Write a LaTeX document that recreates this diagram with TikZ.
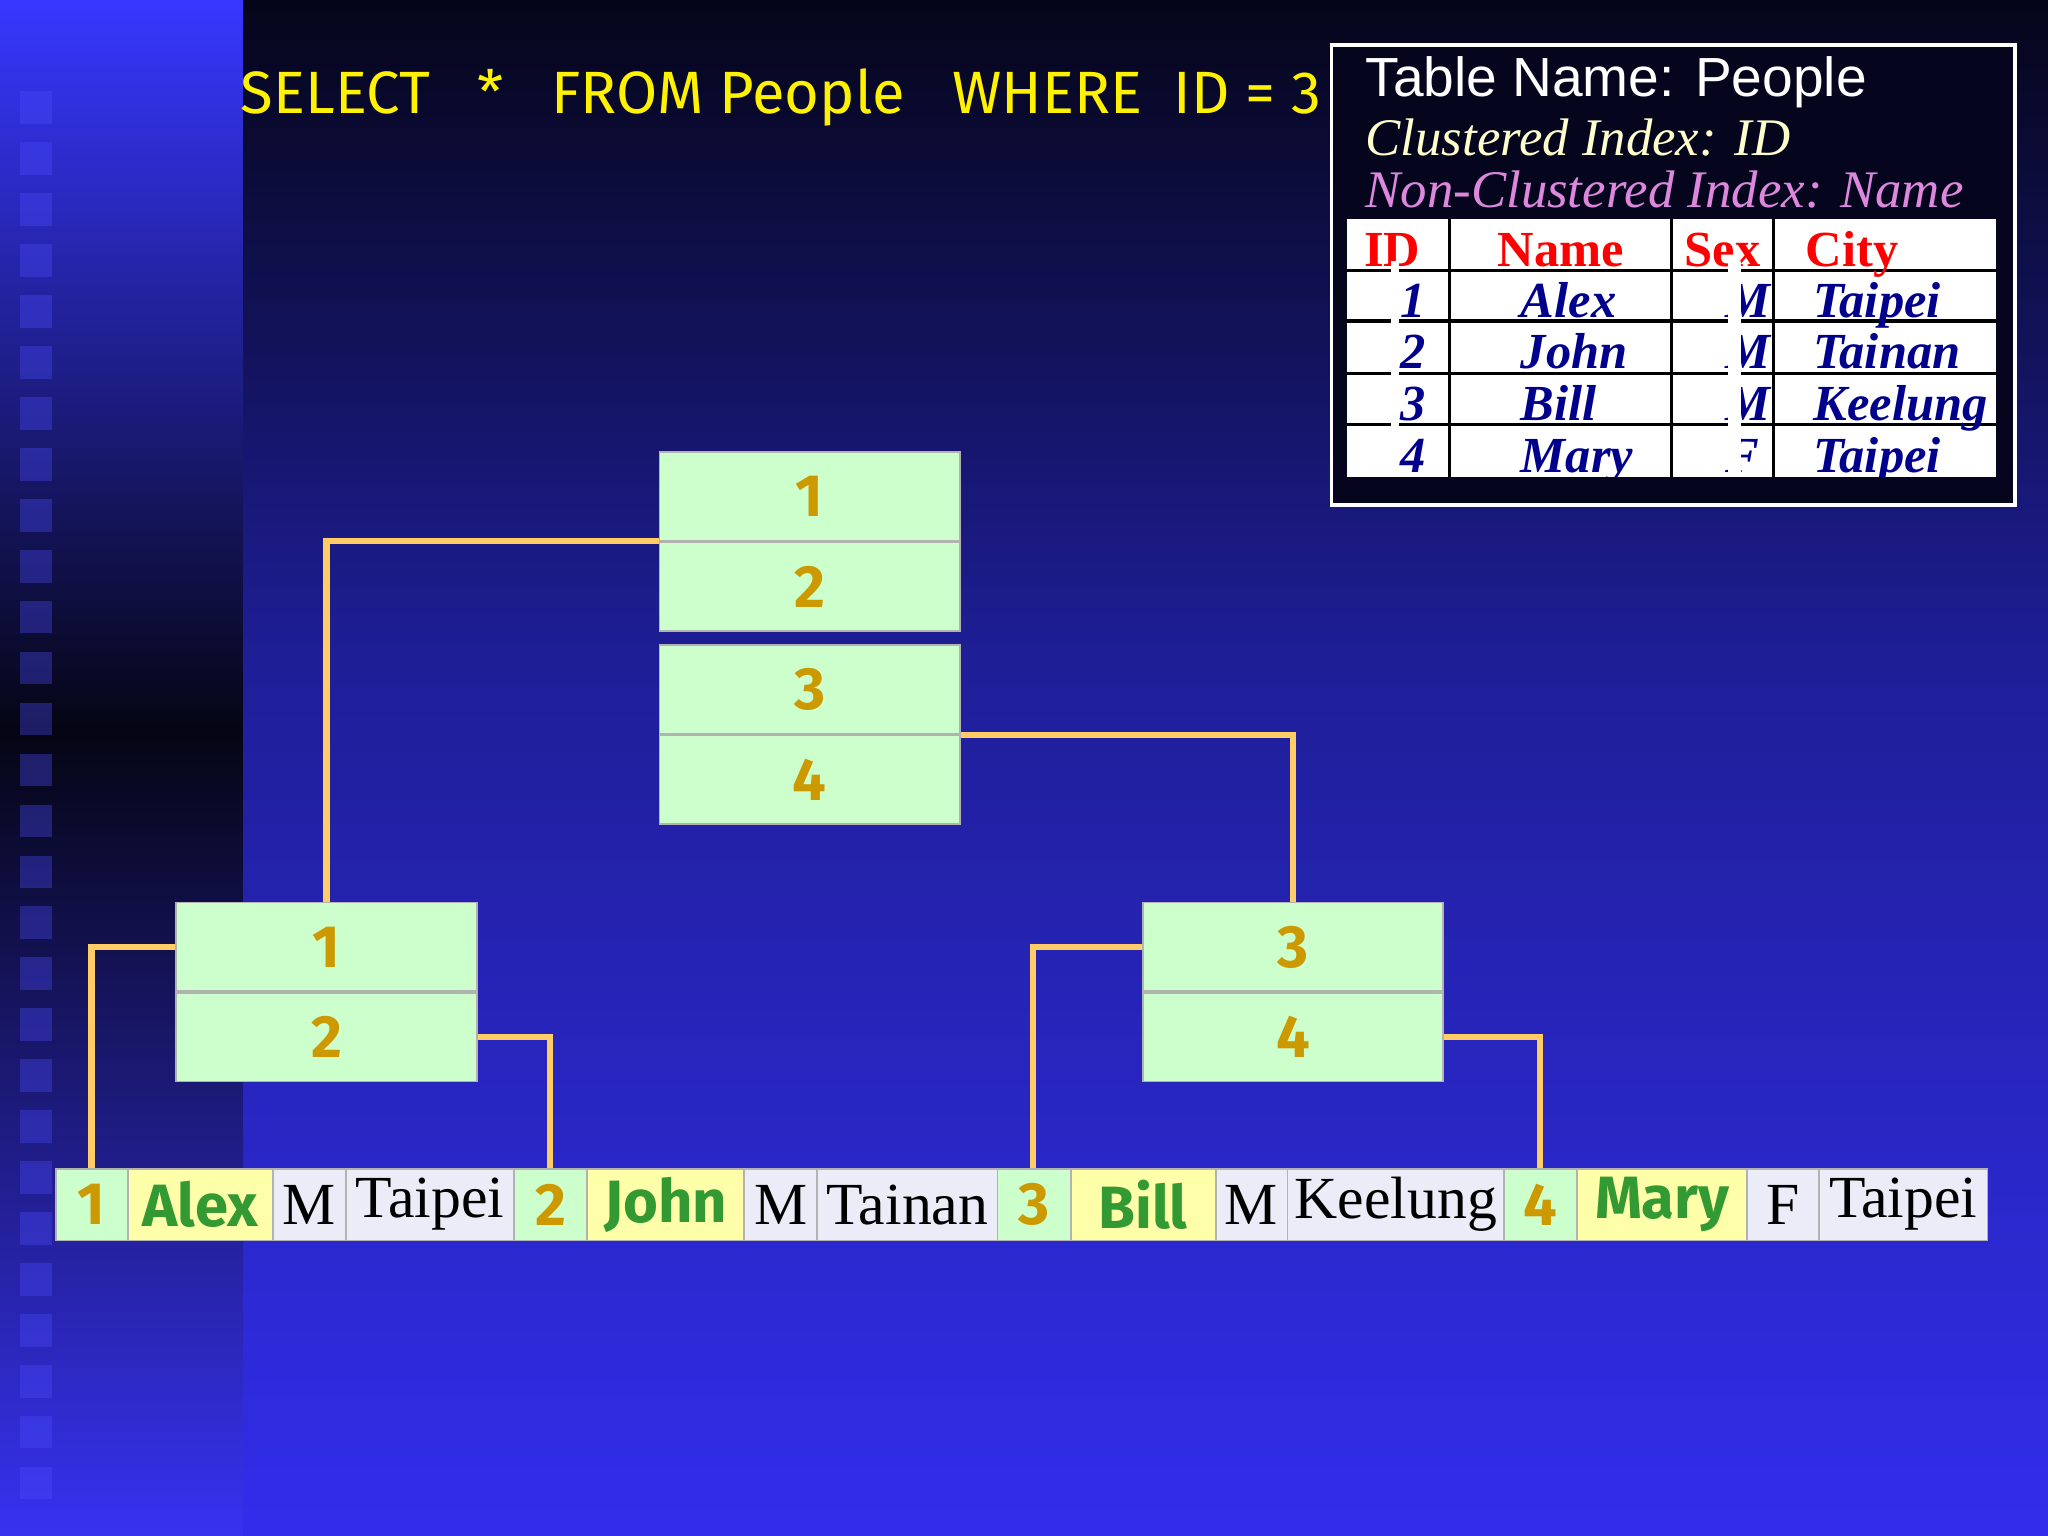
\documentclass[tikz,border=0pt]{standalone}
\usepackage{fontspec}
\setmainfont{Liberation Serif}
\setsansfont{Liberation Sans}
\newfontfamily\comic{Fira Sans}
\begin{document}
\begin{tikzpicture}[x=0.01cm,y=-0.01cm,
  keybox/.style={draw=gray!60,fill={rgb,255:red,204;green,255;blue,204},minimum width=2.3cm,minimum height=0.68cm,inner sep=0,font=\comic\bfseries\fontsize{13}{13}\selectfont,text={rgb,255:red,204;green,153;blue,0}},
  cell/.style={draw=gray!60,minimum height=0.55cm,inner sep=0,anchor=north west},
  idc/.style={cell,fill={rgb,255:red,204;green,255;blue,204},font=\comic\bfseries\fontsize{13}{13}\selectfont,text={rgb,255:red,204;green,153;blue,0}},
  namec/.style={cell,fill={rgb,255:red,255;green,255;blue,170},font=\comic\bfseries\fontsize{13}{13}\selectfont,text={rgb,255:red,51;green,153;blue,51}},
  datc/.style={cell,fill={rgb,255:red,236;green,236;blue,248},font=\fontsize{13}{13}\selectfont,text=black},
  link/.style={draw={rgb,255:red,255;green,204;blue,102},line width=1.4pt},
  hdr/.style={font=\bfseries\fontsize{11}{11}\selectfont,text=red,anchor=base},
  dat/.style={font=\bfseries\itshape\fontsize{11}{11}\selectfont,text={rgb,255:red,0;green,0;blue,140},anchor=base}]
\useasboundingbox (0,0) rectangle (1568,1176);
% background
\shade[top color={rgb,255:red,5;green,5;blue,25},bottom color={rgb,255:red,30;green,30;blue,150}] (186,0) rectangle (1568,500);
\shade[top color={rgb,255:red,30;green,30;blue,150},bottom color={rgb,255:red,50;green,45;blue,235}] (186,499) rectangle (1568,1176);
\shade[top color={rgb,255:red,55;green,55;blue,255},bottom color={rgb,255:red,5;green,5;blue,20}] (0,0) rectangle (186,560);
\shade[top color={rgb,255:red,5;green,5;blue,20},bottom color={rgb,255:red,55;green,50;blue,240}] (0,559) rectangle (186,1176);
\foreach \k in {0,...,27} \fill[blue!70!white,opacity=0.35] (15,{70+\k*39}) rectangle (40,{95+\k*39});
% query
\node[anchor=west,text=yellow,font=\comic\fontsize{13}{13}\selectfont] (q) at (172,75) {SELECT \ \ *\ \ \ FROM People\ \ \ WHERE\ \ ID = 3};
% info box
\node[draw=white,line width=0.8pt,fill={rgb,255:red,5;green,5;blue,30},minimum width=5.23cm,minimum height=3.52cm,anchor=north west,inner sep=0] (info) at (1018,33) {};
\node[anchor=west,text=white,font=\sffamily\fontsize{12}{12}\selectfont] (t1) at (1033,63) {Table Name: People};
\node[anchor=west,text={rgb,255:red,255;green,255;blue,204},font=\itshape\fontsize{11.5}{11.5}\selectfont] (t2) at (1033,105) {Clustered Index: ID};
\node[anchor=west,text={rgb,255:red,221;green,136;blue,221},font=\itshape\fontsize{11.5}{11.5}\selectfont] (t3) at (1033,145) {Non-Clustered Index: Name};
\fill[white] (1031,168) rectangle (1528,365);
\begin{scope}
\clip (1031,168) rectangle (1528,365);
\foreach \yy in {207,246,286,325} \draw[black,line width=0.8pt] (1031,\yy) -- (1528,\yy);
\foreach \xx in {1110,1280,1358} \draw[black,line width=0.6pt] (\xx,168) -- (\xx,365);
\node[hdr] (h1) at (1066,204) {ID};
\node[hdr] (h2) at (1195,204) {Name};
\node[hdr] (h3) at (1319,204) {Sex};
\node[hdr] (h4) at (1418,204) {City};
\foreach \r/\i/\n/\s/\c in {0/1/Alex/M/Taipei,1/2/John/M/Tainan,2/3/Bill/M/Keelung,3/4/Mary/F/Taipei}{
  \node[dat,anchor=base west] at (1060,{243+\r*39.5}) {\i};
  \node[dat,anchor=base west] at (1152,{243+\r*39.5}) {\n};
  \node[dat,anchor=base west] at (1309,{243+\r*39.5}) {\s};
  \node[dat,anchor=base west] at (1376,{243+\r*39.5}) {\c};
}
\fill[white] (1065,200) rectangle (1071,365);
\fill[white] (1323,200) rectangle (1333,365);
\end{scope}
% tree nodes
\node[keybox] (r1) at (620,380) {1};
\node[keybox] (r2) at (620,449) {2};
\node[keybox] (r3) at (620,528) {3};
\node[keybox] (r4) at (620,597) {4};
\node[keybox] (l1) at (250,725) {1};
\node[keybox] (l2) at (250,794) {2};
\node[keybox] (g1) at (990,725) {3};
\node[keybox] (g2) at (990,794) {4};
% leaf row
\foreach \nm/\st/\x/\w/\t in {c1/idc/42/55/1,c2/namec/97/111/Alex,c3/datc/208/56/M,c4/datc/264/129/Taipei,
  c5/idc/393/56/2,c6/namec/449/120/John,c7/datc/569/56/M,c8/datc/625/138/Tainan,
  c9/idc/763/56/3,c10/namec/819/111/Bill,c11/datc/930/55/M,c12/datc/985/166/Keelung,
  c13/idc/1151/56/4,c14/namec/1207/130/Mary,c15/datc/1337/55/F,c16/datc/1392/129/Taipei}
  \node[\st,minimum width=\w*0.01cm] (\nm) at (\x,894) {\t};
% connectors
\coordinate (a1) at (250,414); \coordinate (a2) at (989,562);
\coordinate (b1) at (70,724); \coordinate (b2) at (421,794);
\coordinate (b3) at (791,724); \coordinate (b4) at (1179,794);
\draw[link] (r2.north west) -| (l1.north);
\draw[link] (r3.south east) -| (g1.north);
\draw[link] (l1.west) -| (c1.north west -| b1);
\draw[link] (l2.east) -| (c5.north west -| b2);
\draw[link] (g1.west) -| (c9.north west -| b3);
\draw[link] (g2.east) -| (c13.north west -| b4);
\end{tikzpicture}
\end{document}
